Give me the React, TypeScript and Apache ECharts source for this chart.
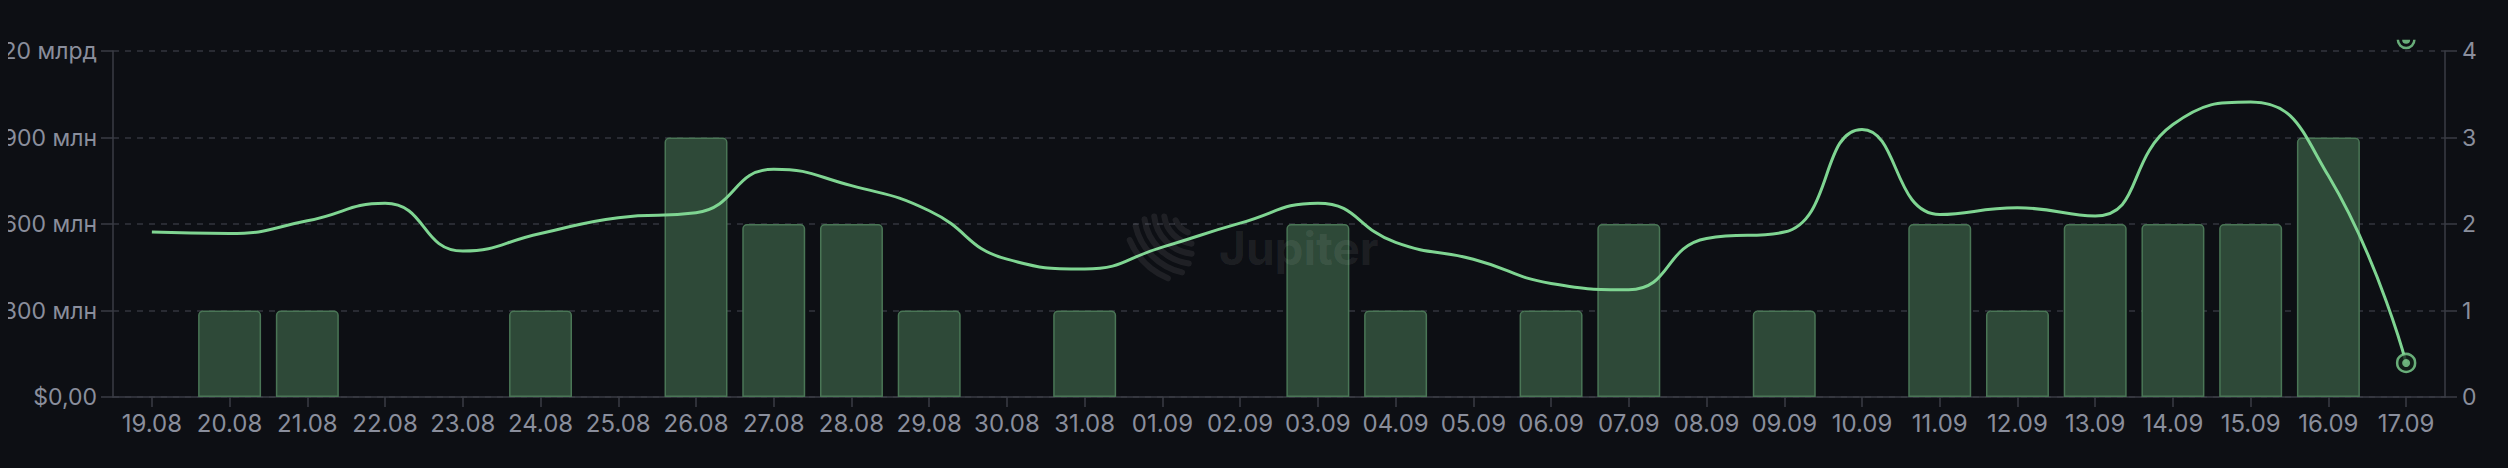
import React, { useEffect, useRef } from "react";
import * as echarts from "echarts";

const categories = [
  "19.08", "20.08", "21.08", "22.08", "23.08", "24.08", "25.08", "26.08", "27.08", "28.08",
  "29.08", "30.08", "31.08", "01.09", "02.09", "03.09", "04.09", "05.09", "06.09", "07.09",
  "08.09", "09.09", "10.09", "11.09", "12.09", "13.09", "14.09", "15.09", "16.09", "17.09",
];
// volume, millions of $ (left axis)
const volumeMln = [
  572, 567, 611, 672, 506, 567, 622, 639, 790, 733,
  646, 478, 444, 520, 603, 672, 536, 478, 394, 372,
  550, 572, 928, 633, 656, 628, 945, 1023, 767, 118,
];
// count (right axis)
const counts = [
  0, 1, 1, 0, 0, 1, 0, 3, 2, 2,
  1, 0, 1, 0, 0, 2, 1, 0, 1, 2,
  0, 1, 0, 2, 1, 2, 2, 2, 3, 0,
];
const leftTicks = [0, 300, 600, 900, 1200];
const rightTicks = [0, 1, 2, 3, 4];
const hoverMarkerValue = 4.13; // partly hidden active dot at top of last column

const BG = "#0d0f14";
const GRID = "#33363e";
const AXIS = "#3a3d45";
const LABEL = "#8a8e9c";
const LINE = "#7fd592";
const FONT = "Inter";
const WM = "rgba(255,255,255,0.075)";

function fmtLeft(v: number): string {
  if (v === 0) return "$0,00";
  if (v >= 1000) return "$" + (v / 1000).toFixed(2).replace(".", ",") + " млрд";
  return "$" + v + " млн";
}

// Jupiter watermark logo arcs (page coords minus chart offset)
function logoArcs() {
  const ox = 1196 - 8;
  const oy = 212;
  const spans: [number, number][] = [
    [22, 23], [32, 37], [42, 39], [52, 37], [62, 32], [72, 22],
  ];
  const base = (135 * Math.PI) / 180;
  return spans.map(([r, half]) => ({
    type: "arc",
    shape: {
      cx: ox,
      cy: oy,
      r,
      startAngle: base - (half * Math.PI) / 180,
      endAngle: base + (half * Math.PI) / 180,
    },
    style: { stroke: WM, lineWidth: 6, fill: null, lineCap: "round" },
    silent: true,
    z: 10,
  }));
}

export default function App() {
  const ref = useRef<HTMLDivElement>(null);
  useEffect(() => {
    if (!ref.current) return;
    const chart = echarts.init(ref.current, null, { renderer: "svg" });
    const last = categories.length - 1;
    chart.setOption({
      animation: false,
      backgroundColor: BG,
      textStyle: { fontFamily: FONT },
      grid: {
        left: 105,
        right: 63,
        top: 51,
        bottom: 71,
        containLabel: false,
        outerBoundsMode: "none",
      },
      graphic: [
        ...logoArcs(),
        {
          type: "text",
          left: 1219 - 8,
          top: 225,
          silent: true,
          z: 10,
          style: {
            text: "Jupiter",
            fill: WM,
            font: "bold 46px Inter",
          },
        },
      ],
      xAxis: {
        type: "category",
        data: categories,
        boundaryGap: true,
        axisLine: { show: true, lineStyle: { color: AXIS, width: 1.5 } },
        axisTick: { show: true, alignWithLabel: true, length: 10, lineStyle: { color: AXIS, width: 1.5 } },
        axisLabel: { color: LABEL, fontSize: 24, fontFamily: FONT, margin: 14, interval: 0 },
        splitLine: { show: false },
      },
      yAxis: [
        {
          type: "value",
          position: "left",
          min: leftTicks[0],
          max: leftTicks[leftTicks.length - 1],
          interval: leftTicks[1] - leftTicks[0],
          axisLine: { show: true, lineStyle: { color: AXIS, width: 1.5 } },
          axisTick: { show: true, length: 12, lineStyle: { color: AXIS, width: 1.5 } },
          axisLabel: { color: LABEL, fontSize: 23, fontFamily: FONT, margin: 16, formatter: fmtLeft },
          splitLine: { show: true, lineStyle: { color: GRID, type: [6, 6], width: 1.5 } },
        },
        {
          type: "value",
          position: "right",
          min: rightTicks[0],
          max: rightTicks[rightTicks.length - 1],
          interval: rightTicks[1] - rightTicks[0],
          axisLine: { show: true, lineStyle: { color: AXIS, width: 1.5 } },
          axisTick: { show: true, length: 12, lineStyle: { color: AXIS, width: 1.5 } },
          axisLabel: { color: LABEL, fontSize: 23, fontFamily: FONT, margin: 17 },
          splitLine: { show: false },
        },
      ],
      series: [
        {
          type: "bar",
          yAxisIndex: 1,
          data: counts.map((c) => (c === 0 ? null : c)),
          barCategoryGap: "19%",
          itemStyle: {
            color: "#2e4938",
            borderColor: "#4a7656",
            borderWidth: 1.5,
            borderRadius: [4, 4, 0, 0],
          },
          z: 2,
        },
        {
          type: "line",
          yAxisIndex: 0,
          data: volumeMln,
          smooth: 0.5,
          showSymbol: false,
          symbol: "none",
          lineStyle: { color: LINE, width: 3 },
          z: 3,
        },
        {
          type: "scatter",
          yAxisIndex: 0,
          data: [[last, volumeMln[last]]],
          symbol: "circle",
          symbolSize: 18,
          itemStyle: { color: "#132219", borderColor: LINE, borderWidth: 2.5 },
          z: 4,
          clip: false,
        },
        {
          type: "scatter",
          yAxisIndex: 0,
          data: [[last, volumeMln[last]]],
          symbol: "circle",
          symbolSize: 8,
          itemStyle: { color: LINE },
          z: 5,
          clip: false,
        },
        {
          type: "scatter",
          yAxisIndex: 1,
          data: [[last, hoverMarkerValue]],
          symbol:
            "path://M -9.5 0 A 9.5 9.5 0 0 0 9.5 0 L 7 0 A 7 7 0 0 1 -7 0 Z M -4 0 A 4 4 0 0 0 4 0 Z",
          symbolSize: [19, 9.5],
          symbolOffset: [0, "50%"],
          itemStyle: { color: LINE },
          z: 5,
          clip: false,
        },
      ],
    });
    return () => chart.dispose();
  }, []);
  return (
    <div
      style={{
        position: "fixed",
        left: 0,
        top: 0,
        width: 2508,
        height: 468,
        background: BG,
        overflow: "hidden",
      }}
    >
      <div ref={ref} style={{ position: "absolute", left: 8, top: 0, width: 2500, height: 468 }} />
    </div>
  );
}
